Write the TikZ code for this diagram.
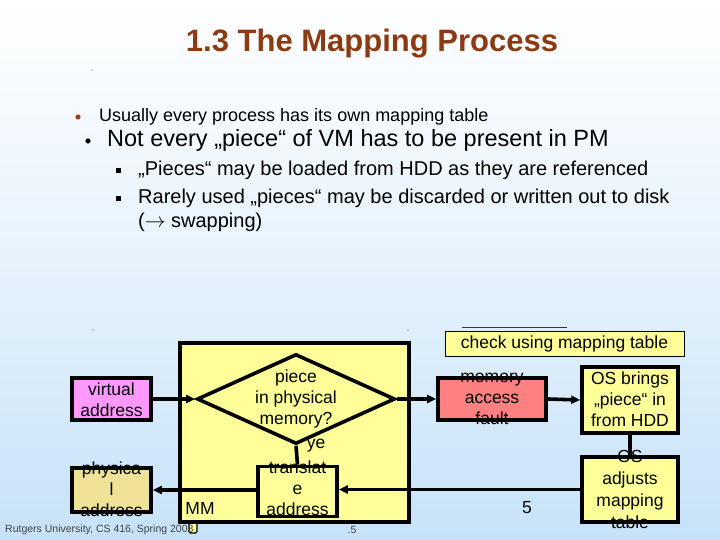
\documentclass[tikz,border=0pt]{standalone}
\usepackage{fontspec}
\setmainfont{Liberation Sans}
\usepackage{tikz}
\usetikzlibrary{calc,positioning,shapes.geometric,arrows.meta}
\usepackage{xcolor}
\definecolor{bgblue}{RGB}{198,226,248}
\definecolor{titlebrown}{RGB}{140,58,18}
\definecolor{mmyellow}{RGB}{255,255,153}
\definecolor{vapink}{RGB}{255,153,255}
\definecolor{pakhaki}{RGB}{240,226,150}
\definecolor{faultred}{RGB}{255,128,128}

\begin{document}
\begin{tikzpicture}[x=1pt, y=-1pt, >={Triangle[length=9pt,width=8pt]},
    box/.style={draw, line width=3.6pt, inner sep=0pt, fill=mmyellow},
    boxtext/.style={align=center, inner sep=0pt, font=\fontsize{17.5}{21}\selectfont},
    flow/.style={line width=3.6pt},
    bullettext/.style={anchor=west, inner sep=0pt}]
    % Background
    \useasboundingbox (0,0) rectangle (720,540);
    \shade[top color=white, bottom color=bgblue, middle color=bgblue!45] (0,0) rectangle (720,540);

    % Title
    \node[font=\fontsize{31}{36}\selectfont\bfseries, color=titlebrown] (title) at (372,44) {1.3 The Mapping Process};
    \fill[black!60] (92,70) circle (0.6);

    % Bullets
    \fill[titlebrown!90!orange] (78,117) circle (2.6);
    \node[bullettext, font=\fontsize{18}{21}\selectfont] (b1) at (99,117) {Usually every process has its own mapping table};
    \fill (88,141) circle (2.6);
    \node[bullettext, font=\fontsize{23.5}{27}\selectfont] (b2) at (107,140) {Not every „piece“ of VM has to be present in PM};
    \foreach \yy in {171,199} {
        \fill (115.5,\yy-2.5) rectangle (120.5,\yy+2.5);
    }
    \node[bullettext, font=\fontsize{20}{24}\selectfont] (s1) at (138,170) {„Pieces“ may be loaded from HDD as they are referenced};
    \node[bullettext, font=\fontsize{20}{24}\selectfont] (s2) at (138,198) {Rarely used „pieces“ may be discarded or written out to disk};
    \node[bullettext, font=\fontsize{20}{24}\selectfont] (s3) at (138,222) {($\rightarrow$ swapping)};

    % Diagram boxes
    \fill[black!60] (93,330) circle (0.6);
    \fill[black!60] (408,330) circle (0.6);
    \draw[line width=0.8pt, black!80] (462,327) -- (567,327);
    \draw[line width=1.2pt, fill=mmyellow, rounded corners=1.5pt] (189,520) rectangle (197,533);
    \node[box, minimum width=229pt, minimum height=179pt] (mm) at (294.5,432.5) {};
    \node[box, diamond, minimum width=198pt, minimum height=90pt] (piece) at (296,399) {};
    \node[box, fill=vapink, minimum width=79pt, minimum height=42pt] (virt) at (111.5,399) {};
    \node[box, fill=pakhaki, minimum width=79pt, minimum height=44pt] (phys) at (111.5,490) {};
    \node[box, minimum width=79pt, minimum height=50pt] (xlat) at (297.5,491.5) {};
    \node[box, fill=faultred, minimum width=108pt, minimum height=42pt] (fault) at (492,399) {};
    \node[box, minimum width=96pt, minimum height=66pt] (brings) at (630,400) {};
    \node[box, minimum width=96pt, minimum height=65pt] (adjust) at (630,489.5) {};
    \node[draw, line width=1pt, fill=mmyellow, inner sep=0pt, minimum width=239pt, minimum height=25pt,
          font=\fontsize{17.5}{21}\selectfont] (check) at (564.5,343.5) {check using mapping table};

    % Connectors
    \draw[flow, ->] (virt.east) -- (piece.west);
    \draw[flow] (piece.south) -- (xlat.north);
    \draw[flow, ->] (xlat.west |- phys.east) -- (phys.east);
    \draw[flow, ->] (piece.east) -- (fault.west);
    \draw[flow, ->] (fault.east) -- (brings.west);
    \draw[flow] (brings.south) -- (adjust.north);
    \draw[flow, ->] (adjust.west) -- (adjust.west -| xlat.east);

    % Box texts
    \node[boxtext] (piecetxt) at (296,399) {piece\\in physical\\memory?};
    \node[boxtext] (yes) at (316,446) {ye};
    \node[boxtext] (virttxt) at (111.5,399.5) {virtual\\address};
    \node[boxtext] (physttxt) at (111.5,489) {physica\\l\\address};
    \node[boxtext] (xlattxt) at (297.5,488.5) {translat\\e\\address};
    \node[boxtext] (faulttxt) at (492,399) {memory\\access\\fault};
    \node[boxtext] (bringstxt) at (630,399) {OS brings\\„piece“ in\\from HDD};
    \node[boxtext, font=\fontsize{17.5}{22}\selectfont] (adjusttxt) at (630,489.5) {OS\\adjusts\\mapping\\table};
    \node[boxtext] (mmtxt) at (200,508) {MM};
    \node[boxtext] (five) at (527,508) {5};

    % Footer
    \node[anchor=west, inner sep=0pt, font=\fontsize{10.5}{12}\selectfont, black!75] (footer) at (5,530) {Rutgers University, CS 416, Spring 2008};
    \node[inner sep=0pt, font=\fontsize{10.5}{12}\selectfont, black!75] (page) at (352,530) {.5};
\end{tikzpicture}
\end{document}
